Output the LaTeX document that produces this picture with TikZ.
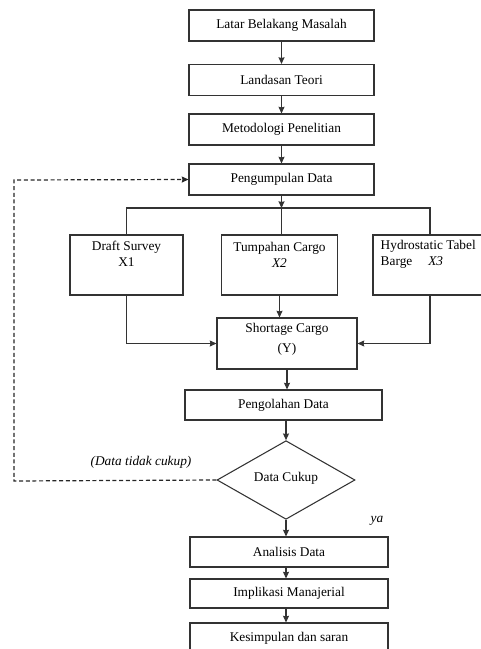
\documentclass[tikz,border=0pt]{standalone}
\usepackage{fontspec}
\setmainfont{Liberation Serif}
\usetikzlibrary{shapes.geometric,arrows.meta}
\begin{document}
\begin{tikzpicture}[x=0.75pt, y=-0.75pt, font=\fontsize{10}{12}\selectfont,
                    line/.style = {draw=black!80, line width=0.8pt},
                    arrow/.style = {line, -{Stealth[length=5pt,width=4.5pt,inset=0.5pt]}},
                    loopback/.style = {draw=black!85, line width=0.9pt, dash pattern=on 3pt off 2pt, -{Stealth[length=5pt,width=4.5pt,inset=0.5pt]}},
                    stepbox/.style = {draw=black!80, line width=0.8pt, rectangle, inner sep=0pt, minimum width=138.75pt, minimum height=23.25pt},
                    varbox/.style = {draw=black!80, line width=0.8pt, rectangle, inner sep=0pt, minimum height=45pt},
                    innertext/.style = {inner sep=0pt, align=center}]
                        \useasboundingbox (0,0) rectangle (480,649);

                        \node[stepbox] (latar) at (281.5,25.5) {Latar Belakang Masalah};
                        \node[stepbox] (teori) at (281.5,80) {Landasan Teori};
                        \node[stepbox] (metode) at (281.5,129.5) {Metodologi Penelitian};
                        \node[stepbox] (kumpul) at (281.5,179.5) {Pengumpulan Data};

                        \coordinate (cabang) at (281.5,208);

                        \node[varbox, minimum width=84.75pt] (draft) at (126.5,265) {};
                        \node[varbox, minimum width=87pt] (tumpah) at (279.5,265) {};
                        \node[varbox, minimum width=85.5pt] (hydro) at (430,265) {};
                        \node[innertext, below=4.5pt] (draftlbl) at (draft.north) {Draft Survey\\[0pt]X1};
                        \node[innertext, below=6pt] (tumpahlbl) at (tumpah.north) {Tumpahan Cargo\\[0pt]\textit{X2}};
                        \node[innertext, align=left, anchor=north west] (hydrolbl) at ([xshift=6pt,yshift=-4pt]hydro.north west) {Hydrostatic Tabel\\[0pt]Barge\hspace{1.2em}\textit{X3}};

                        \node[draw=black!80, line width=0.8pt, rectangle, inner sep=0pt, minimum width=105pt, minimum height=38.25pt] (shortage) at (287,343.5) {};
                        \node[innertext, below=4.5pt] (shortlbl) at (shortage.north) {Shortage Cargo\\[2.5pt](Y)};

                        \node[stepbox, minimum width=147.75pt, minimum height=22.5pt] (olah) at (283.5,405) {Pengolahan Data};

                        \node[draw=black!80, line width=0.8pt, diamond, inner sep=0pt, minimum width=103.5pt, minimum height=45pt] (cukup) at (286,480) {\raisebox{4pt}{Data Cukup}};

                        \node[stepbox, minimum width=148.5pt, minimum height=22.5pt] (analisis) at (289,552) {Analisis Data};
                        \node[stepbox, minimum width=148.5pt, minimum height=21.75pt] (implikasi) at (289,593.5) {Implikasi Manajerial};
                        \node[stepbox, minimum width=148.5pt, minimum height=22.5pt] (simpul) at (289,638) {Kesimpulan dan saran};

                        \draw[arrow] (latar) -- (teori);
                        \draw[arrow] (teori) -- (metode);
                        \draw[arrow] (metode) -- (kumpul);
                        \draw[arrow] (kumpul) -- (cabang);
                        \draw[line] (draft.north) |- (cabang) -| (hydro.north);
                        \draw[line] (cabang) -- (cabang |- tumpah.north);

                        \draw[arrow] (tumpah.south) -- (tumpah.south |- shortage.north);
                        \draw[arrow] (draft.south) |- (shortage.west);
                        \draw[arrow] (hydro.south) |- (shortage.east);
                        \draw[arrow] (shortage) -- (shortage |- olah.north);
                        \draw[arrow] (olah.south -| cukup) -- (cukup.north);
                        \draw[arrow] (cukup.south) -- (cukup.south |- analisis.north);
                        \draw[arrow] (analisis.south -| cukup) -- (cukup |- implikasi.north);
                        \draw[arrow] (implikasi.south -| cukup) -- (cukup |- simpul.north);

                        %\draw[arrow] (cukup.west) -- (kumpul.west);
                        \draw[loopback] (cukup.west) -- (14,481) -- (14,180) -- (kumpul.west);

                        \node (tidak) at (141,462) {\textit{(Data tidak cukup)}};
                        \node (ya) at (377,521) {\textit{ya}};
                    \end{tikzpicture}
\end{document}
